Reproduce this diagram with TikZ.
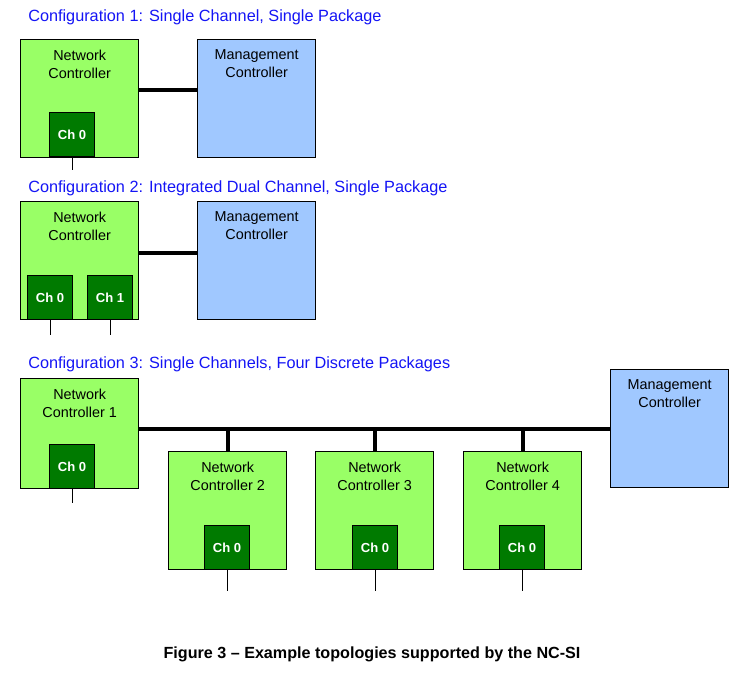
\documentclass[tikz,border=0pt]{standalone}
\usepackage{fontspec}
\setmainfont{Liberation Sans}
\definecolor{ncgreen}{RGB}{153,255,102}
\definecolor{chgreen}{RGB}{0,122,0}
\definecolor{mcblue}{RGB}{160,200,255}
\definecolor{titleblue}{RGB}{20,20,245}
\begin{document}
\begin{tikzpicture}[x=0.75pt,y=-0.75pt,
  box/.style={draw, line width=1pt, inner sep=0pt, anchor=north west},
  ncbox/.style={box, fill=ncgreen, minimum width=88.5pt, minimum height=88.5pt},
  mcbox/.style={box, fill=mcblue, minimum width=88.5pt, minimum height=88.5pt},
  chbox/.style={box, fill=chgreen, minimum width=33.5pt, minimum height=33pt, text=white, font=\bfseries\fontsize{9.8}{11}\selectfont},
  boxtext/.style={anchor=north, inner sep=0pt, align=center, font=\fontsize{10.8}{13.5}\selectfont},
  title/.style={anchor=base west, inner sep=0pt, text=titleblue, font=\fontsize{12.2}{14}\selectfont},
  bus/.style={line width=3pt},
  stub/.style={line width=0.75pt},
]
\useasboundingbox (0,0) rectangle (746,674);

% ---------- Configuration 1 ----------
\node[title] (t1) at (28,21.5) {Configuration 1: Single Channel, Single Package};
\node[ncbox] (nc1) at (20,39) {};
\node[boxtext] (nc1t) at ([yshift=-8pt]nc1.north) {Network\\Controller};
\node[chbox] (c1ch0) at (49,112) {Ch 0};
\node[mcbox] (mc1) at (197,39) {};
\node[boxtext] (mc1t) at ([yshift=-8pt]mc1.north) {Management\\Controller};
\draw[bus] ([yshift=6.75pt]nc1.east) -- ([yshift=6.75pt]mc1.west);
\coordinate (e1) at (c1ch0.south |- 0,170);
\draw[stub] (c1ch0.south) -- (e1);

% ---------- Configuration 2 ----------
\node[title] (t2) at (28,192) {Configuration 2: Integrated Dual Channel, Single Package};
\node[ncbox] (nc2) at (20,201) {};
\node[boxtext] (nc2t) at ([yshift=-8pt]nc2.north) {Network\\Controller};
\node[chbox] (c2ch0) at (27,275) {Ch 0};
\node[chbox] (c2ch1) at (87,275) {Ch 1};
\node[mcbox] (mc2) at (197,201) {};
\node[boxtext] (mc2t) at ([yshift=-8pt]mc2.north) {Management\\Controller};
\draw[bus] ([yshift=6pt]nc2.east) -- ([yshift=6pt]mc2.west);
\coordinate (e2a) at (c2ch0.south |- 0,335);
\coordinate (e2b) at (c2ch1.south |- 0,335);
\draw[stub] (c2ch0.south) -- (e2a);
\draw[stub] (c2ch1.south) -- (e2b);

% ---------- Configuration 3 ----------
\node[title] (t3) at (28,368) {Configuration 3: Single Channels, Four Discrete Packages};
\node[ncbox, minimum height=82.5pt] (n31) at (20,378) {};
\node[boxtext] (n31t) at ([yshift=-8pt]n31.north) {Network\\Controller 1};
\node[chbox] (n31ch) at (49,444) {Ch 0};
\node[mcbox] (mc3) at (610,369) {};
\node[boxtext] (mc3t) at ([yshift=-8pt]mc3.north) {Management\\Controller};

\node[ncbox] (n32) at (168,451) {};
\node[boxtext] (n32t) at ([yshift=-8pt]n32.north) {Network\\Controller 2};
\node[chbox] (n32ch) at (204,525) {Ch 0};

\node[ncbox] (n33) at (315,451) {};
\node[boxtext] (n33t) at ([yshift=-8pt]n33.north) {Network\\Controller 3};
\node[chbox] (n33ch) at (352,525) {Ch 0};

\node[ncbox] (n34) at (463,451) {};
\node[boxtext] (n34t) at ([yshift=-8pt]n34.north) {Network\\Controller 4};
\node[chbox] (n34ch) at (499,525) {Ch 0};

\coordinate (busL) at (138,429);
\draw[bus] (n31.east |- busL) -- (mc3.west |- busL);
\draw[bus] (n32.north |- busL) -- (n32.north);
\draw[bus] (n33.north |- busL) -- (n33.north);
\draw[bus] (n34.north |- busL) -- (n34.north);

\coordinate (e31) at (n31ch.south |- 0,503);
\coordinate (e32) at (n32ch.south |- 0,591);
\coordinate (e33) at (n33ch.south |- 0,591);
\coordinate (e34) at (n34ch.south |- 0,591);
\draw[stub] (n31ch.south) -- (e31);
\draw[stub] (n32ch.south) -- (e32);
\draw[stub] (n33ch.south) -- (e33);
\draw[stub] (n34ch.south) -- (e34);

% ---------- Caption ----------
\node[anchor=base, inner sep=0pt, font=\bfseries\fontsize{12.1}{14}\selectfont] (cap) at (372,658) {Figure 3 \textendash{} Example topologies supported by the NC-SI};
\end{tikzpicture}
\end{document}
